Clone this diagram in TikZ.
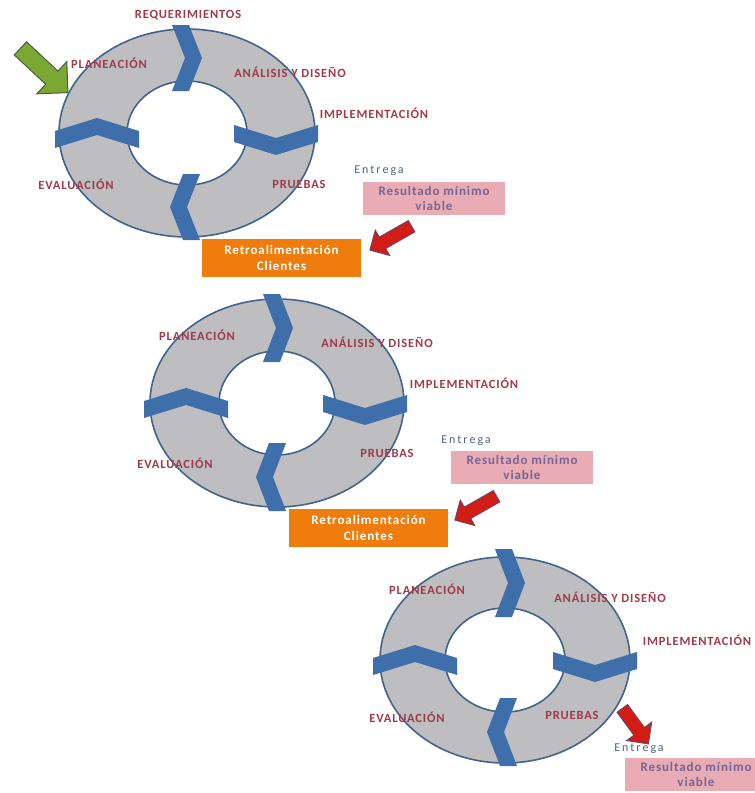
\documentclass[tikz,border=0pt]{standalone}
\usepackage{fontspec}
\usetikzlibrary{shapes.arrows}
\newfontfamily\lblfont[LetterSpace=7]{Carlito}
\newfontfamily\boxfont[LetterSpace=7]{Carlito}
\newfontfamily\entfont[LetterSpace=17]{Carlito}
\definecolor{ringgray}{RGB}{190,190,192}
\definecolor{ringline}{RGB}{66,100,140}
\definecolor{chevblue}{RGB}{63,111,170}
\definecolor{lblred}{RGB}{158,58,74}
\definecolor{pinkbox}{RGB}{233,172,180}
\definecolor{mvptext}{RGB}{118,100,150}
\definecolor{orbox}{RGB}{238,125,14}
\definecolor{enttext}{RGB}{76,100,130}
\definecolor{grfill}{RGB}{122,168,50}
\definecolor{grline}{RGB}{66,96,70}
\definecolor{arrred}{RGB}{212,28,22}
\definecolor{arrline}{RGB}{112,70,96}
\tikzset{
  chev/.pic={\fill[chevblue] (-15,-#1) -- (2,-#1) -- (15,0) -- (2,#1) -- (-15,#1) -- (-2,0) -- cycle;},
  lbl/.style={text=lblred, inner sep=0pt, font=\lblfont\bfseries\fontsize{12.5}{14}\selectfont},
  ent/.style={text=enttext, inner sep=0pt, font=\entfont\fontsize{12}{14}\selectfont},
  mvp/.style={fill=pinkbox, text=mvptext, align=center, inner sep=0pt, minimum width=142pt, minimum height=33pt, font=\boxfont\bfseries\fontsize{13}{15}\selectfont},
  fb/.style={fill=orbox, text=white, align=center, inner sep=0pt, minimum width=159pt, minimum height=38pt, font=\boxfont\bfseries\fontsize{13}{16}\selectfont},
  redarr/.style={single arrow, draw=arrline, fill=arrred, line width=1pt, inner xsep=0pt, inner ysep=6pt, single arrow head extend=8pt, anchor=tail},
  greenarr/.style={single arrow, draw=grline, fill=grfill, line width=1pt, inner xsep=0pt, inner ysep=8.5pt, single arrow head extend=13pt, minimum height=65pt, anchor=tail}
}
\begin{document}
\begin{tikzpicture}[x=1pt, y=-1pt]
\useasboundingbox (0,0) rectangle (755,793);
\clip (0,0) rectangle (755,793);

% first cycle
\begin{scope}[shift={(187,133)}]
    \fill[ringgray, even odd rule] (0,0) ellipse [x radius=128, y radius=104] (0,0) ellipse [x radius=60, y radius=52];
    \draw[ringline, line width=1.6pt] (0,0) ellipse [x radius=128, y radius=104] (0,0) ellipse [x radius=60, y radius=52];
    \pic at (0,-75) {chev=33};
    \pic[rotate=-90] at (89,7) {chev=42};
    \pic[rotate=180] at (-2,74) {chev=33};
    \pic[rotate=90] at (-90,0) {chev=42};
\end{scope}
\node[lbl] (req) at (188,15) {REQUERIMIENTOS};
\node[lbl] (plan1) at (109,63) {PLANEACIÓN};
\node[lbl] (anal1) at (290,72) {ANÁLISIS Y DISEÑO};
\node[lbl] (impl1) at (374,113) {IMPLEMENTACIÓN};
\node[lbl] (eval1) at (76,184) {EVALUACIÓN};
\node[lbl] (prue1) at (299,184) {PRUEBAS};
\node[ent] (ent1) at (379,171) {Entrega};
\node[mvp] (mvp1) at (434,198.5) {Resultado mínimo\\viable};
\node[fb] (fb1) at (281.5,258) {Retroalimentación\\Clientes};
\node[greenarr, rotate=-43] (go) at (20,48) {};
\node[redarr, minimum height=48pt, rotate=209.7] (arr1) at (412,226) {};

% second cycle
\begin{scope}[shift={(277,403)}]
    \fill[ringgray, even odd rule] (0,0) ellipse [x radius=127, y radius=104] (0,0) ellipse [x radius=58, y radius=52];
    \draw[ringline, line width=1.6pt] (0,0) ellipse [x radius=127, y radius=104] (0,0) ellipse [x radius=58, y radius=52];
    \pic at (1,-75) {chev=34};
    \pic[rotate=-90] at (88,7) {chev=42};
    \pic[rotate=180] at (-6,74) {chev=34};
    \pic[rotate=90] at (-91,0) {chev=42};
\end{scope}
\node[lbl] (plan2) at (197,335) {PLANEACIÓN};
\node[lbl] (anal2) at (377,342) {ANÁLISIS Y DISEÑO};
\node[lbl] (impl2) at (464,383) {IMPLEMENTACIÓN};
\node[lbl] (eval2) at (175,463) {EVALUACIÓN};
\node[lbl] (prue2) at (387,453) {PRUEBAS};
\node[ent] (ent2) at (466,441) {Entrega};
\node[mvp] (mvp2) at (522,467.5) {Resultado mínimo\\viable};
\node[fb] (fb2) at (368.5,528) {Retroalimentación\\Clientes};
\node[redarr, minimum height=48pt, rotate=209.7] (arr2) at (497,496) {};

% third cycle
\begin{scope}[shift={(505,660)}]
    \fill[ringgray, even odd rule] (0,0) ellipse [x radius=125, y radius=103] (0,0) ellipse [x radius=60, y radius=52];
    \draw[ringline, line width=1.6pt] (0,0) ellipse [x radius=125, y radius=103] (0,0) ellipse [x radius=60, y radius=52];
    \pic at (5,-77) {chev=34};
    \pic[rotate=-90] at (90,7) {chev=42};
    \pic[rotate=180] at (-3,72) {chev=34};
    \pic[rotate=90] at (-90,0) {chev=42};
\end{scope}
\node[lbl] (plan3) at (427,589) {PLANEACIÓN};
\node[lbl] (anal3) at (610,597) {ANÁLISIS Y DISEÑO};
\node[lbl] (impl3) at (697,640) {IMPLEMENTACIÓN};
\node[lbl] (eval3) at (407,717) {EVALUACIÓN};
\node[lbl] (prue3) at (572,715) {PRUEBAS};
\node[redarr, minimum height=44pt, single arrow head extend=9pt, rotate=-53.7] (arr3) at (622,708) {};
\node[ent] (ent3) at (639,749) {Entrega};
\node[mvp] (mvp3) at (696,774.5) {Resultado mínimo\\viable};
\end{tikzpicture}
\end{document}
